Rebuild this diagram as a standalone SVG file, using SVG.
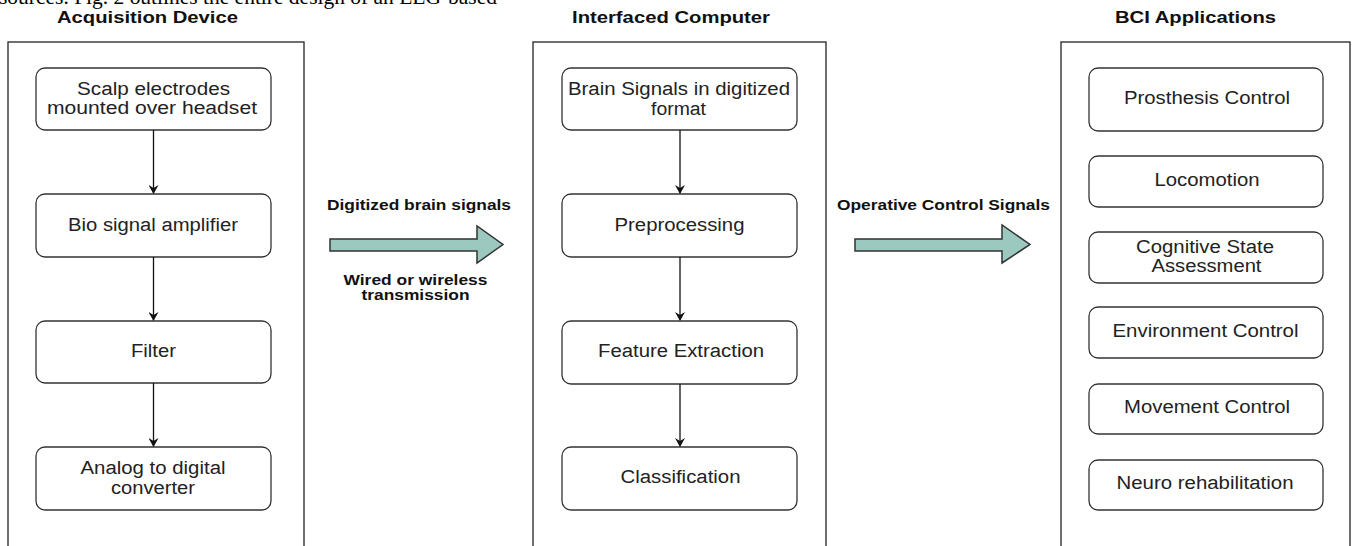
<svg xmlns="http://www.w3.org/2000/svg" width="1356" height="546" viewBox="0 0 1356 546">
<defs>
<style>
.frame{fill:#fff;stroke:#222;stroke-width:1.3}
.node{fill:#fff;stroke:#333;stroke-width:1.3}
.t{font-family:"Liberation Sans",Arial,sans-serif;font-size:18px;fill:#222;text-anchor:middle}
.h{font-family:"Liberation Sans",Arial,sans-serif;font-size:16px;font-weight:bold;fill:#111;text-anchor:middle}
.lb{font-family:"Liberation Sans",Arial,sans-serif;font-size:15px;font-weight:bold;fill:#111;text-anchor:middle}
.conn{stroke:#111;stroke-width:1.3;fill:none;marker-end:url(#ah)}
.big{fill:#9bc8bf;stroke:#333;stroke-width:1.5}
</style>
<marker id="ah" markerWidth="10" markerHeight="10" refX="8" refY="5" orient="auto" markerUnits="userSpaceOnUse">
<path d="M0,0 L9,5 L0,10 L3,5 Z" fill="#111"/>
</marker>
</defs>
<rect width="1356" height="546" fill="#fff"/>
<text x="-1" y="3.5" font-family="'Liberation Serif','Times New Roman',serif" font-size="21" fill="#000" textLength="498" lengthAdjust="spacingAndGlyphs">sources. Fig. 2 outlines the entire design of an EEG-based</text>

<g id="acquisition">
<text class="h" x="147.5" y="23" textLength="181" lengthAdjust="spacingAndGlyphs">Acquisition Device</text>
<rect class="frame" x="8" y="42" width="296" height="520"/>
</g>
<g id="computer">
<text class="h" x="671" y="23" textLength="198" lengthAdjust="spacingAndGlyphs">Interfaced Computer</text>
<rect class="frame" x="533" y="42" width="293" height="520"/>
</g>
<g id="bci">
<text class="h" x="1195.5" y="23" textLength="161" lengthAdjust="spacingAndGlyphs">BCI Applications</text>
<rect class="frame" x="1061" y="42" width="289" height="520"/>
</g>

<g id="n-scalp"><rect class="node" x="36" y="68" width="235" height="62" rx="9"/><text class="t" x="153.5" y="94.5" textLength="153" lengthAdjust="spacingAndGlyphs">Scalp electrodes</text><text class="t" x="152" y="114" textLength="210" lengthAdjust="spacingAndGlyphs">mounted over headset</text></g>
<g id="n-bio"><rect class="node" x="36" y="194" width="235" height="63" rx="9"/><text class="t" x="153" y="230.5" textLength="170" lengthAdjust="spacingAndGlyphs">Bio signal amplifier</text></g>
<g id="n-filter"><rect class="node" x="36" y="321" width="235" height="62" rx="9"/><text class="t" x="153.5" y="357" textLength="45" lengthAdjust="spacingAndGlyphs">Filter</text></g>
<g id="n-adc"><rect class="node" x="36" y="447" width="235" height="63" rx="9"/><text class="t" x="153" y="473.5" textLength="145" lengthAdjust="spacingAndGlyphs">Analog to digital</text><text class="t" x="153" y="493.5" textLength="84" lengthAdjust="spacingAndGlyphs">converter</text></g>

<g id="n-brain"><rect class="node" x="562" y="68" width="235" height="62" rx="9"/><text class="t" x="679" y="95" textLength="222" lengthAdjust="spacingAndGlyphs">Brain Signals in digitized</text><text class="t" x="678.5" y="114.5" textLength="55" lengthAdjust="spacingAndGlyphs">format</text></g>
<g id="n-pre"><rect class="node" x="562" y="194" width="235" height="63" rx="9"/><text class="t" x="679.5" y="230.5" textLength="130" lengthAdjust="spacingAndGlyphs">Preprocessing</text></g>
<g id="n-feat"><rect class="node" x="562" y="321" width="235" height="63" rx="9"/><text class="t" x="681" y="357" textLength="166" lengthAdjust="spacingAndGlyphs">Feature Extraction</text></g>
<g id="n-class"><rect class="node" x="562" y="447" width="235" height="63" rx="9"/><text class="t" x="680.5" y="483" textLength="120" lengthAdjust="spacingAndGlyphs">Classification</text></g>

<g id="n-prosthesis"><rect class="node" x="1089" y="68" width="234" height="63" rx="9"/><text class="t" x="1207" y="103.5" textLength="166" lengthAdjust="spacingAndGlyphs">Prosthesis Control</text></g>
<g id="n-loco"><rect class="node" x="1089" y="156" width="234" height="51" rx="9"/><text class="t" x="1207" y="185.5" textLength="105" lengthAdjust="spacingAndGlyphs">Locomotion</text></g>
<g id="n-cog"><rect class="node" x="1089" y="232" width="234" height="51" rx="9"/><text class="t" x="1205" y="252.5" textLength="138" lengthAdjust="spacingAndGlyphs">Cognitive State</text><text class="t" x="1206.5" y="271.5" textLength="110" lengthAdjust="spacingAndGlyphs">Assessment</text></g>
<g id="n-env"><rect class="node" x="1089" y="307" width="234" height="51" rx="9"/><text class="t" x="1205.5" y="336.5" textLength="186" lengthAdjust="spacingAndGlyphs">Environment Control</text></g>
<g id="n-move"><rect class="node" x="1089" y="384" width="234" height="50" rx="9"/><text class="t" x="1207" y="413" textLength="166" lengthAdjust="spacingAndGlyphs">Movement Control</text></g>
<g id="n-neuro"><rect class="node" x="1089" y="460" width="234" height="50" rx="9"/><text class="t" x="1205" y="489" textLength="177" lengthAdjust="spacingAndGlyphs">Neuro rehabilitation</text></g>

<g id="connectors">
<line class="conn" x1="153.5" y1="130" x2="153.5" y2="193"/>
<line class="conn" x1="153.5" y1="257" x2="153.5" y2="320"/>
<line class="conn" x1="153.5" y1="383" x2="153.5" y2="446"/>
<line class="conn" x1="680" y1="130" x2="680" y2="193"/>
<line class="conn" x1="680" y1="257" x2="680" y2="320"/>
<line class="conn" x1="680" y1="384" x2="680" y2="446"/>
<path class="big" d="M330,239 L477,239 L477,226 L503,244.5 L477,263 L477,251 L330,251 Z"/>
<path class="big" d="M855,239 L1002,239 L1002,225 L1030,244.5 L1002,263 L1002,251 L855,251 Z"/>
<text class="lb" x="419" y="210" textLength="184" lengthAdjust="spacingAndGlyphs">Digitized brain signals</text>
<text class="lb" x="415.5" y="284.5" textLength="144" lengthAdjust="spacingAndGlyphs">Wired or wireless</text>
<text class="lb" x="415.5" y="300" textLength="108" lengthAdjust="spacingAndGlyphs">transmission</text>
<text class="lb" x="943.5" y="209.5" textLength="213" lengthAdjust="spacingAndGlyphs">Operative Control Signals</text>
</g>
</svg>
